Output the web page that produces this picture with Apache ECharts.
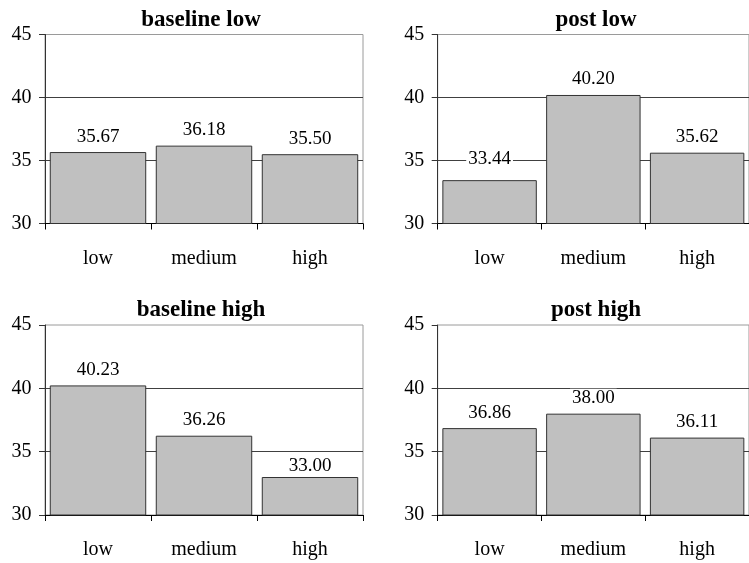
<!DOCTYPE html>
<html>
<head>
<meta charset="utf-8">
<script src="https://cdn.jsdelivr.net/npm/echarts@6/dist/echarts.min.js"></script>
<style>html,body{margin:0;padding:0;background:#fff}#c{width:749px;height:563px}</style>
</head>
<body>
<div id="c"></div>
<script>
const categories = ['low', 'medium', 'high'];
const panelTitles = ['baseline low', 'post low', 'baseline high', 'post high'];
const baselineLow = [35.67, 36.18, 35.50];
const postLow = [33.44, 40.20, 35.62];
const baselineHigh = [40.23, 36.26, 33.00];
const postHigh = [36.86, 38.00, 36.11];
const yMin = 30, yMax = 45, yInterval = 5;

const seriesData = [baselineLow, postLow, baselineHigh, postHigh];
// vertical nudges of individual value labels (px), as placed in the original
const labelNudge = [[0, 0, 0], [-6, 0, 0], [0, 0, 5], [0, 0, 0]];
const grids = [
  {left: 45, top: 34.5, width: 318, height: 189},
  {left: 437.7, top: 34.5, width: 318, height: 189},
  {left: 45, top: 325, width: 318, height: 190},
  {left: 437.7, top: 325, width: 318, height: 190}
];
const titleX = [201, 596, 201, 596];
const titleY = [9, 9, 299, 299];
const serif = '"Liberation Serif", "Times New Roman", serif';

const option = {
  animation: false,
  backgroundColor: '#fff',
  title: panelTitles.map((t, i) => ({
    text: t,
    left: titleX[i],
    top: titleY[i],
    textAlign: 'center',
    padding: 0,
    textStyle: {fontFamily: serif, fontWeight: 'bold', fontSize: 23, color: '#000'}
  })),
  grid: grids.map(g => Object.assign({show: true, borderColor: '#9a9a9a', borderWidth: 1, backgroundColor: 'transparent'}, g)),
  xAxis: grids.map((g, i) => ({
    type: 'category',
    gridIndex: i,
    data: categories,
    axisLine: {lineStyle: {color: '#000', width: 1}},
    axisTick: {show: true, length: 6, inside: false, lineStyle: {color: '#000'}},
    axisLabel: {fontFamily: serif, fontSize: 20, color: '#000', margin: 25},
    splitLine: {show: false}
  })),
  yAxis: grids.map((g, i) => ({
    type: 'value',
    gridIndex: i,
    min: yMin, max: yMax, interval: yInterval,
    axisLine: {show: true, lineStyle: {color: '#333', width: 1}},
    axisTick: {show: true, length: 6, lineStyle: {color: '#333'}},
    axisLabel: {fontFamily: serif, fontSize: 20, color: '#000', margin: 13.5},
    splitLine: {show: true, showMaxLine: false, lineStyle: {color: '#404040', width: 1}}
  })),
  series: seriesData.map((d, i) => ({
    type: 'bar',
    xAxisIndex: i,
    yAxisIndex: i,
    data: d.map((v, j) => ({value: v, label: {offset: [0, labelNudge[i][j]]}})),
    barCategoryGap: '9%',
    itemStyle: {color: '#c0c0c0', borderColor: '#333', borderWidth: 1},
    label: {
      show: true,
      position: 'top',
      distance: 6,
      formatter: p => p.value.toFixed(2),
      fontFamily: serif,
      fontSize: 19,
      color: '#000',
      backgroundColor: '#fff',
      padding: [0, 2]
    }
  }))
};

const chart = echarts.init(document.getElementById('c'), null, {renderer: 'canvas'});
chart.setOption(option);
</script>
</body>
</html>
